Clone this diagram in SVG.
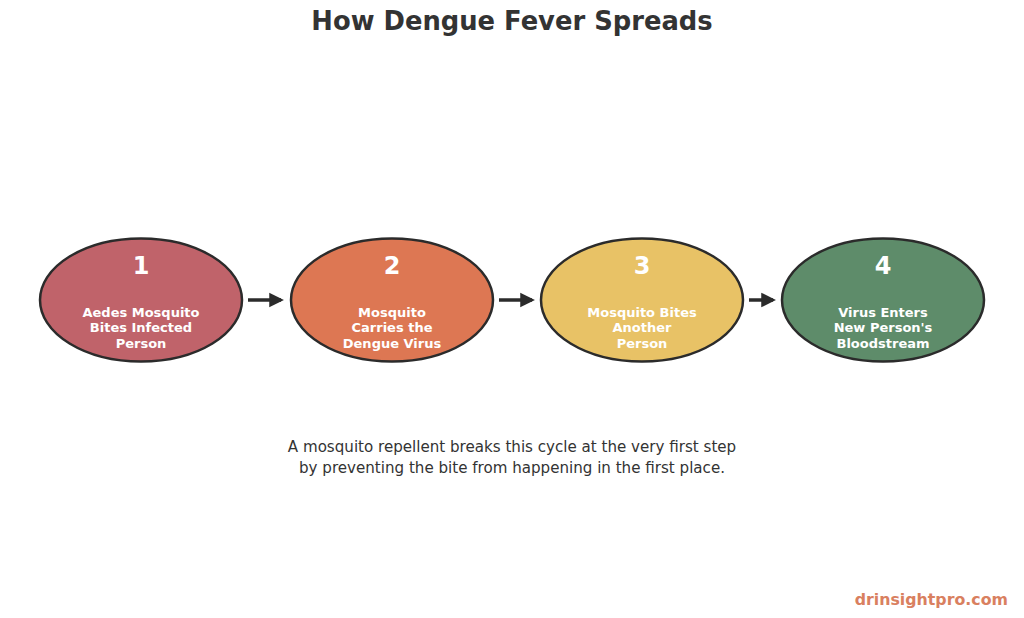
<svg xmlns="http://www.w3.org/2000/svg" width="1024" height="618" viewBox="0 0 1024 618">
<style>
text{font-family:"DejaVu Sans","Noto Sans",sans-serif}
.node{stroke:#2b2b2b;stroke-width:2.5}
.num{font-size:24px;font-weight:bold;fill:#fff;text-anchor:middle}
.lbl{font-size:13px;font-weight:bold;fill:#fff;text-anchor:middle}
.conn{stroke:#2b2b2b;stroke-width:3.5;fill:none}
</style>
<defs>
<marker id="ah" viewBox="0 0 10 10" refX="8" refY="5" markerWidth="4.2" markerHeight="4.6" orient="auto" markerUnits="strokeWidth">
<path d="M0,0 L10,5 L0,10 z" fill="#2b2b2b"/>
</marker>
</defs>
<rect width="1024" height="618" fill="#fff"/>
<text x="512" y="30" font-size="25.8" font-weight="bold" fill="#333" text-anchor="middle">How Dengue Fever Spreads</text>
<g id="n1">
<ellipse class="node" cx="141" cy="300" rx="101" ry="61.5" fill="#c0636a"/>
<text class="num" x="141" y="274">1</text>
<text class="lbl" x="141" y="317">Aedes Mosquito</text>
<text class="lbl" x="141" y="332">Bites Infected</text>
<text class="lbl" x="141" y="348">Person</text>
</g>
<g id="n2">
<ellipse class="node" cx="392" cy="300" rx="101" ry="61.5" fill="#dd7753"/>
<text class="num" x="392" y="274">2</text>
<text class="lbl" x="392" y="317">Mosquito</text>
<text class="lbl" x="392" y="332">Carries the</text>
<text class="lbl" x="392" y="348">Dengue Virus</text>
</g>
<g id="n3">
<ellipse class="node" cx="642" cy="300" rx="101" ry="61.5" fill="#e8c266"/>
<text class="num" x="642" y="274">3</text>
<text class="lbl" x="642" y="317">Mosquito Bites</text>
<text class="lbl" x="642" y="332">Another</text>
<text class="lbl" x="642" y="348">Person</text>
</g>
<g id="n4">
<ellipse class="node" cx="883" cy="300" rx="101" ry="61.5" fill="#5e8c6a"/>
<text class="num" x="883" y="274">4</text>
<text class="lbl" x="883" y="317">Virus Enters</text>
<text class="lbl" x="883" y="332">New Person's</text>
<text class="lbl" x="883" y="348">Bloodstream</text>
</g>
<g id="connectors">
<line class="conn" x1="248" y1="300" x2="281" y2="300" marker-end="url(#ah)"/>
<line class="conn" x1="499" y1="300" x2="532" y2="300" marker-end="url(#ah)"/>
<line class="conn" x1="749" y1="300" x2="773" y2="300" marker-end="url(#ah)"/>
</g>
<text x="512" y="452" font-size="15.1" fill="#333" text-anchor="middle">A mosquito repellent breaks this cycle at the very first step</text>
<text x="512" y="473" font-size="15.1" fill="#333" text-anchor="middle">by preventing the bite from happening in the first place.</text>
<text x="1008" y="605" font-size="15.8" font-weight="bold" fill="#d9805f" text-anchor="end">drinsightpro.com</text>
</svg>
